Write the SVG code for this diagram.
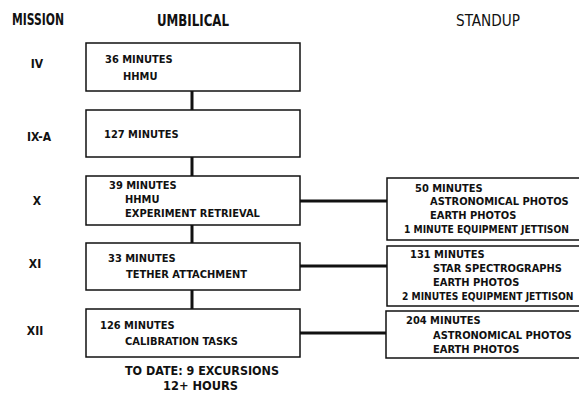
<svg xmlns="http://www.w3.org/2000/svg" width="579" height="396" viewBox="0 0 579 396">
<style>
.bg{fill:#ffffff}
.box{fill:#ffffff;stroke:#111;stroke-width:1.5}
.con{fill:none;stroke:#111;stroke-width:3}
text{font-family:"DejaVu Sans Condensed","DejaVu Sans",sans-serif;fill:#111}
.hd{font-size:15px;font-weight:bold}
.hl{font-size:15px;font-weight:normal}
.ms{font-size:12px;font-weight:bold;text-anchor:middle}
.t{font-size:11px;font-weight:bold}
.s{font-size:11px;font-weight:bold}
.sj{font-size:10.2px;font-weight:bold}
.ft{font-size:12px;font-weight:bold}
</style>
<rect class="bg" x="0" y="0" width="579" height="396"/>
<g id="headers">
<text class="hd" x="12" y="25" textLength="52" lengthAdjust="spacingAndGlyphs">MISSION</text>
<text class="hd" x="157" y="26" textLength="72" lengthAdjust="spacingAndGlyphs">UMBILICAL</text>
<text class="hl" x="456" y="26" textLength="64" lengthAdjust="spacingAndGlyphs">STANDUP</text>
</g>
<g id="missions">
<text class="ms" x="37" y="68">IV</text>
<text class="ms" x="39" y="141">IX-A</text>
<text class="ms" x="37" y="205">X</text>
<text class="ms" x="35" y="268">XI</text>
<text class="ms" x="35" y="335">XII</text>
</g>
<g id="connectors">
<line class="con" x1="192" y1="91" x2="192" y2="110"/>
<line class="con" x1="192" y1="157" x2="192" y2="176"/>
<line class="con" x1="192" y1="225" x2="192" y2="243"/>
<line class="con" x1="192" y1="290" x2="192" y2="309"/>
<line class="con" x1="300" y1="201" x2="387" y2="201"/>
<line class="con" x1="300" y1="266" x2="387" y2="266"/>
<line class="con" x1="300" y1="333" x2="387" y2="333"/>
</g>
<g id="umb-iv">
<rect class="box" x="86" y="43" width="214" height="48"/>
<text class="t" x="105" y="63">36  MINUTES</text>
<text class="t" x="123" y="80">HHMU</text>
</g>
<g id="umb-ixa">
<rect class="box" x="86" y="110" width="214" height="47"/>
<text class="t" x="104" y="138">127 MINUTES</text>
</g>
<g id="umb-x">
<rect class="box" x="86" y="176" width="214" height="49"/>
<text class="t" x="109" y="189">39 MINUTES</text>
<text class="t" x="125" y="203">HHMU</text>
<text class="t" x="125" y="217">EXPERIMENT RETRIEVAL</text>
</g>
<g id="umb-xi">
<rect class="box" x="86" y="243" width="214" height="47"/>
<text class="t" x="108" y="262">33 MINUTES</text>
<text class="t" x="126" y="278">TETHER ATTACHMENT</text>
</g>
<g id="umb-xii">
<rect class="box" x="86" y="309" width="214" height="48"/>
<text class="t" x="100" y="329">126  MINUTES</text>
<text class="t" x="125" y="345">CALIBRATION TASKS</text>
</g>
<g id="footer">
<text class="ft" x="125" y="375" textLength="154" lengthAdjust="spacingAndGlyphs">TO DATE: 9 EXCURSIONS</text>
<text class="ft" x="163" y="390" textLength="75" lengthAdjust="spacingAndGlyphs">12+ HOURS</text>
</g>
<g id="std-x">
<rect class="box" x="387" y="178" width="200" height="62"/>
<text class="s" x="415" y="192">50 MINUTES</text>
<text class="s" x="430" y="205">ASTRONOMICAL PHOTOS</text>
<text class="s" x="430" y="219">EARTH PHOTOS</text>
<text class="sj" x="404" y="233">1 MINUTE EQUIPMENT JETTISON</text>
</g>
<g id="std-xi">
<rect class="box" x="387" y="246" width="200" height="60"/>
<text class="s" x="410" y="258">131  MINUTES</text>
<text class="s" x="433" y="272">STAR SPECTROGRAPHS</text>
<text class="s" x="433" y="286">EARTH PHOTOS</text>
<text class="sj" x="402" y="300">2 MINUTES EQUIPMENT JETTISON</text>
</g>
<g id="std-xii">
<rect class="box" x="386" y="311" width="200" height="47"/>
<text class="s" x="406" y="324">204  MINUTES</text>
<text class="s" x="433" y="339">ASTRONOMICAL PHOTOS</text>
<text class="s" x="433" y="353">EARTH PHOTOS</text>
</g>
</svg>
